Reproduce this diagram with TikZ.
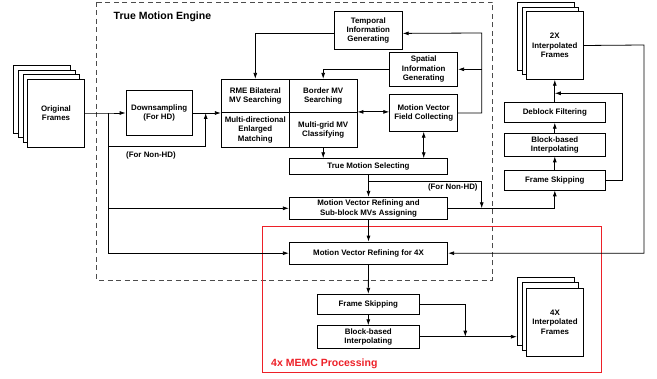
\documentclass[tikz,border=0pt]{standalone}
\usepackage{fontspec}
\setmainfont{Liberation Sans}
\usetikzlibrary{arrows.meta}
\definecolor{memcred}{RGB}{237,32,40}
\begin{document}
\begin{tikzpicture}[x=1pt,y=-1pt,line width=0.8pt,
    blk/.style={draw,fill=white,align=center,inner sep=1pt,font=\bfseries\fontsize{7.9}{9.4}\selectfont},
    sheet/.style={blk,minimum width=56.6pt,minimum height=67.7pt},
    arr/.style={-{Latex[length=6pt,width=4pt]}},
    dbl/.style={{Latex[length=6pt,width=4pt]}-{Latex[length=6pt,width=4pt]}},
    ttl/.style={anchor=west,font=\bfseries\fontsize{10.5}{12}\selectfont}]
  \useasboundingbox (0,0) rectangle (657,379);
  \draw[gray!60!black,dash pattern=on 5pt off 3.5pt] (96.7,2) rectangle (492.7,280);
  \node[ttl] (tme) at (110,17) {True Motion Engine};
  \draw[memcred] (262,226.7) rectangle (601.7,372.7);
  \node[ttl,text=memcred] (memc) at (267.5,363.7) {4x MEMC Processing};
  \foreach \d in {3,2,1} \node[sheet] at (56-4.7*\d,113.2-4.6*\d) {};
  \node[sheet] (orig) at (56,113.2) {Original\\Frames};
  \foreach \d in {2,1} \node[sheet] at (554.8-4.5*\d,45.5-4.5*\d) {};
  \node[sheet] (f2x) at (554.8,45.5) {2X\\Interpolated\\Frames};
  \node[sheet] (f4xb) at (545.6,311.2) {};
  \node[sheet] at (550.2,316.5) {};
  \node[sheet] (f4x) at (555,322.2) {4X\\Interpolated\\Frames};
  \node[blk,minimum width=66.3pt,minimum height=45.4pt] (down) at (159.2,113) {Downsampling\\(For HD)};
  \node[blk,minimum width=68pt,minimum height=33pt] (rme) at (255.3,95.8) {RME Bilateral\\MV Searching};
  \node[blk,minimum width=67.7pt,minimum height=33pt] (bord) at (323.2,95.8) {Border MV\\Searching};
  \node[blk,minimum width=68pt,minimum height=35pt] (mde) at (255.3,129.8) {Multi-directional\\Enlarged\\Matching};
  \node[blk,minimum width=67.7pt,minimum height=35pt] (mgc) at (323.2,129.8) {Multi-grid MV\\Classifying};
  \node[blk,minimum width=68pt,minimum height=37.3pt] (temp) at (368.3,30.4) {Temporal\\Information\\Generating};
  \node[blk,minimum width=68pt,minimum height=34pt] (spat) at (423.7,69.3) {Spatial\\Information\\Generating};
  \node[blk,minimum width=68pt,minimum height=36.6pt] (mvfc) at (423.7,113) {Motion Vector\\Field Collecting};
  \node[blk,minimum width=158.4pt,minimum height=15.6pt] (tms) at (368.5,166.5) {True Motion Selecting};
  \node[blk,minimum width=158.4pt,minimum height=22pt] (mvrs) at (368.5,208.3) {Motion Vector Refining and\\Sub-block MVs Assigning};
  \node[blk,minimum width=158.4pt,minimum height=22.3pt] (mvr4) at (368.5,253.2) {Motion Vector Refining for 4X};
  \node[blk,minimum width=101.7pt,minimum height=20pt] (df) at (554.8,112.3) {Deblock Filtering};
  \node[blk,minimum width=101.7pt,minimum height=22.3pt] (bbi2) at (554.8,144.8) {Block-based\\Interpolating};
  \node[blk,minimum width=101.7pt,minimum height=20pt] (fs2) at (554.8,180) {Frame Skipping};
  \node[blk,minimum width=102pt,minimum height=20pt] (fs4) at (368.3,304.3) {Frame Skipping};
  \node[blk,minimum width=102pt,minimum height=22.6pt] (bbi4) at (368.3,337) {Block-based\\Interpolating};
  \node[blk,draw=none,fill=none] (nhd1) at (151,155) {(For Non-HD)};
  \node[blk,draw=none,fill=none,anchor=east] (nhd2) at (479,187) {(For Non-HD)};
  \coordinate (j) at (108.3,113);
  \coordinate (lp) at (205.7,146.7);
  \coordinate (rt) at (481.7,33);
  \coordinate (br) at (481.7,181);
  \coordinate (rr) at (644,45);
  \coordinate (fb) at (622.7,93.3);
  \coordinate (m4) at (465.3,336.7);
  \draw[arr] (orig.east |- j) -- (j) -- (down.west |- j);
  \draw (j) -- (j |- mvr4.west);
  \draw[arr] (j |- lp) -- (lp) -- (lp |- down.east);
  \draw[arr] (down.east) -- (down.east -| mde.west);
  \draw[arr] (j |- mvrs.west) -- (mvrs.west);
  \draw[arr] (j |- mvr4.west) -- (mvr4.west);
  \draw[arr] ([yshift=-3pt]temp.west) -| (rme.north);
  \draw[arr] (spat.west) -| (bord.north);
  \draw[arr] (mvfc.east) -| (rt) -- ([yshift=-3pt]temp.east);
  \draw[arr] (rt |- spat.east) -- (spat.east);
  \draw[dbl] (mgc.north east) -- (mgc.north east -| mvfc.west);
  \draw[arr] (mgc.south) -- (mgc.south |- tms.north);
  \draw[dbl] (mvfc.south) -- (mvfc.south |- tms.north);
  \draw[arr] (tms.south) -- (mvrs.north);
  \draw[arr] (tms.south |- br) -- (br) -- (br |- mvrs.east);
  \draw[arr] (mvrs.east) -| (fs2.south);
  \draw[arr] (mvrs.south) -- (mvr4.north);
  \draw[arr] (f2x.east) -- (rr) -- (rr |- mvr4.east) -- (mvr4.east);
  \draw[arr] (fs2.north) -- (bbi2.south);
  \draw[arr] (bbi2.north) -- (df.south);
  \draw[arr] (df.north) -- (f2x.south);
  \draw[arr] (fs2.east) -| (fb) -- (fb -| df.north);
  \draw[arr] (mvr4.south) -- (fs4.north);
  \draw[arr] (fs4.south) -- (bbi4.north);
  \draw[arr] (fs4.east) -| (m4);
  \draw[arr] (bbi4.east |- m4) -- (m4 -| f4xb.west);
\end{tikzpicture}
\end{document}
